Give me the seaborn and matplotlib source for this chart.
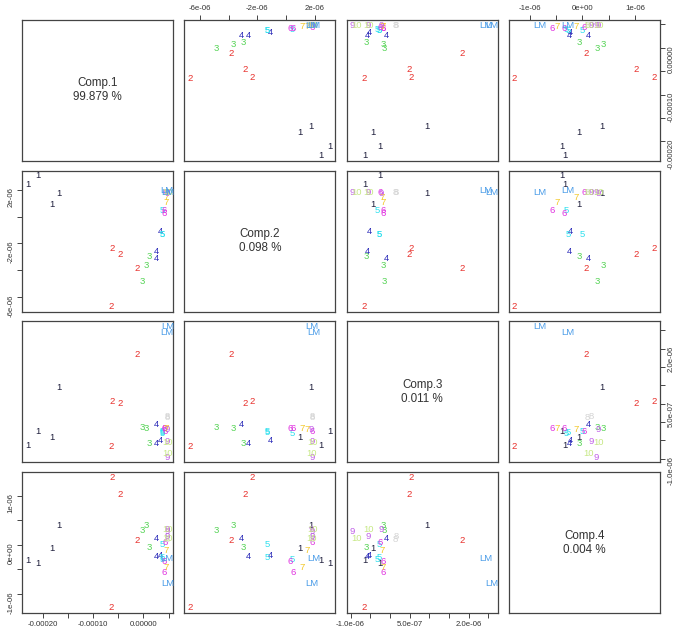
import numpy as np
import pandas as pd
import seaborn as sns
import matplotlib.pyplot as plt

sns.set_style("white")
plt.rcParams['font.family'] = ['Liberation Sans', 'DejaVu Sans']

# sample labels and PCA scores
labels = ["1", "1", "1", "1",
          "2", "2", "2", "2",
          "3", "3", "3",
          "4", "4", "4",
          "5", "5", "5",
          "6", "6", "6",
          "7", "7",
          "8", "8",
          "9", "9", "9",
          "10", "10",
          "LM", "LM"]
comp1 = np.array([-2.30, -2.10, -1.68, -1.81,
                  -0.65, -0.12, -0.47, -0.63,
                  -0.02, 0.06, 0.11,
                  0.25, 0.26, 0.33,
                  0.37, 0.37, 0.38,
                  0.42, 0.42, 0.44,
                  0.45, 0.45,
                  0.47, 0.47,
                  0.47, 0.47, 0.47,
                  0.47, 0.47,
                  0.48, 0.47]) * 1e-4
comp2 = np.array([2.40, 3.05, 1.75, 0.95,
                  -6.70, -3.85, -2.85, -2.35,
                  -4.85, -3.65, -3.00,
                  -3.10, -2.62, -1.10,
                  -1.30, -1.30, 0.45,
                  0.25, 0.50, 1.80,
                  1.45, 1.10,
                  1.80, 1.82,
                  1.85, 1.80, 1.75,
                  1.80, 1.85,
                  1.80, 1.95]) * 1e-6
comp3 = np.array([-0.64, -0.25, 0.93, -0.42,
                  -0.66, 1.83, 0.50, 0.55,
                  -0.14, -0.17, -0.60,
                  -0.08, -0.58, -0.52,
                  -0.26, -0.28, -0.33,
                  -0.17, -0.17, -0.25,
                  -0.20, -0.18,
                  0.13, 0.16,
                  -0.96, -0.54, -0.22,
                  -0.85, -0.55,
                  2.60, 2.45]) * 1e-6
comp4 = np.array([-0.33, -0.39, 0.38, -0.07,
                  -1.29, 0.08, 1.02, 1.37,
                  0.29, 0.39, -0.06,
                  0.12, -0.24, -0.22,
                  0.00, -0.27, -0.30,
                  -0.35, -0.57, 0.04,
                  -0.12, -0.47,
                  0.10, 0.17,
                  0.26, 0.17, 0.30,
                  0.12, 0.30,
                  -0.80, -0.28]) * 1e-6

comps = ["Comp.1", "Comp.2", "Comp.3", "Comp.4"]
variance = ["99.879", "0.098", "0.011", "0.004"]

colors = {"1": "#1e1e3c", "2": "#e8302c", "3": "#56d456", "4": "#2a2ab8",
          "5": "#30e0ee", "6": "#e030e0", "7": "#f2c82a", "8": "#d4d4d4",
          "9": "#c060e8", "10": "#c6e884", "LM": "#4a9ce8"}

# tick positions and which ones get a label
ticks = {
    "Comp.1": ([-2e-4, -1.5e-4, -1e-4, -5e-5, 0, 5e-5],
               ["-0.00020", "", "-0.00010", "", "0.00000", ""]),
    "Comp.2": ([-6e-6, -4e-6, -2e-6, 0, 2e-6],
               ["-6e-06", "", "-2e-06", "", "2e-06"]),
    "Comp.3": ([-1e-6, -5e-7, 0, 5e-7, 1e-6, 1.5e-6, 2e-6, 2.5e-6],
               ["-1.0e-06", "", "", "5.0e-07", "", "", "2.0e-06", ""]),
    "Comp.4": ([-1e-6, -5e-7, 0, 5e-7, 1e-6],
               ["-1e-06", "", "0e+00", "", "1e-06"]),
}

df = pd.DataFrame({"Comp.1": comp1, "Comp.2": comp2, "Comp.3": comp3,
                   "Comp.4": comp4, "label": labels})


def text_points(x, y, **kws):
    ax = plt.gca()
    for xi, yi, lab in zip(x, y, df.loc[x.index, "label"]):
        ax.text(xi, yi, lab, color=colors[lab], fontsize=6.8,
                ha="center", va="center")


g = sns.PairGrid(df, vars=comps, height=1.6, despine=False)
g.map_offdiag(text_points)
g.figure.set_size_inches(6.85, 6.39)

for k, c in enumerate(comps):
    lo, hi = df[c].min(), df[c].max()
    pad = (hi - lo) * 0.04
    g.axes[0, k].set_xlim(lo - pad, hi + pad)
    g.axes[k, 0].set_ylim(lo - pad, hi + pad)
    g.axes[0, k].set_xticks(ticks[c][0], ticks[c][1])
    g.axes[k, 0].set_yticks(ticks[c][0], ticks[c][1])

for i in range(4):
    for j in range(4):
        ax = g.axes[i, j]
        ax.set_xlabel("")
        ax.set_ylabel("")
        ax.tick_params(which="both", bottom=False, top=False, left=False,
                       right=False, labelbottom=False, labeltop=False,
                       labelleft=False, labelright=False,
                       length=3.5, width=0.7, color="#444444",
                       labelsize=5.6, labelcolor="#333333", pad=2)
        ax.tick_params(axis="y", labelrotation=90)
        for s in ax.spines.values():
            s.set_color("#444444")
            s.set_linewidth(0.9)
        if i == 0 and j in (1, 3):
            ax.tick_params(top=True, labeltop=True)
        if i == 3 and j in (0, 2):
            ax.tick_params(bottom=True, labelbottom=True)
        if j == 0 and i in (1, 3):
            ax.tick_params(left=True, labelleft=True)
        if j == 3 and i in (0, 2):
            ax.tick_params(right=True, labelright=True)
        if i == j:
            ax.text(0.5, 0.5, f"{comps[i]}\n{variance[i]} %",
                    transform=ax.transAxes, ha="center", va="center",
                    fontsize=8.4, color="#333333")

g.figure.subplots_adjust(left=22 / 685, right=660 / 685, bottom=1 - 613 / 639,
                         top=1 - 20 / 639, wspace=0.073, hspace=0.071)
g.figure.savefig("out.png", dpi=100)
